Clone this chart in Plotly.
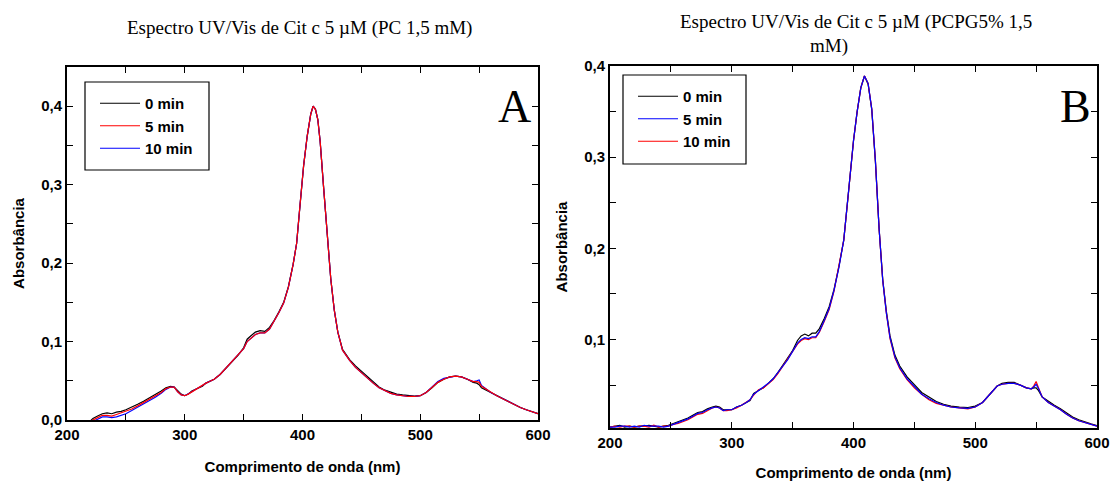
import plotly.graph_objects as go

# ---------------- Panel A data (PC 1,5 mM) ----------------
A_wl = [218, 222, 226, 230, 234, 238, 242, 246, 250, 255, 260, 265, 270, 275, 280, 284, 288, 291, 294,
        297, 300, 303, 306, 309, 312, 315, 318, 321, 325, 330, 335, 340, 345, 350, 353, 356, 360, 364,
        368, 372, 376, 380, 384, 388, 392, 395, 398, 401, 404, 407, 409, 411, 413, 415, 418, 421, 424,
        427, 430, 434, 440, 445, 450, 455, 460, 465, 470, 475, 480, 485, 490, 495, 500, 505, 510, 515,
        520, 525, 530, 535, 540, 545, 548, 550, 552, 556, 560, 565, 570, 575, 580, 585, 590, 595, 600]
A_0min = [-0.004, 0.002, 0.005, 0.008, 0.009, 0.008, 0.010, 0.011, 0.013, 0.016, 0.020, 0.024, 0.028, 0.032,
          0.037, 0.041, 0.043, 0.042, 0.037, 0.033, 0.031, 0.033, 0.037, 0.039, 0.041, 0.043, 0.047, 0.049,
          0.052, 0.058, 0.066, 0.074, 0.082, 0.092, 0.103, 0.107, 0.112, 0.114, 0.113, 0.118, 0.127, 0.138,
          0.150, 0.170, 0.198, 0.225, 0.276, 0.325, 0.362, 0.390, 0.400, 0.396, 0.383, 0.355, 0.295, 0.232,
          0.180, 0.140, 0.112, 0.090, 0.077, 0.069, 0.062, 0.055, 0.048, 0.042, 0.038, 0.035, 0.033, 0.032,
          0.031, 0.0305, 0.031, 0.035, 0.041, 0.048, 0.052, 0.055, 0.056, 0.055, 0.052, 0.048, 0.047, 0.045,
          0.041, 0.038, 0.035, 0.031, 0.027, 0.023, 0.019, 0.016, 0.013, 0.010, 0.008]
A_5min = [-0.006, 0.000, 0.003, 0.006, 0.006, 0.005, 0.007, 0.009, 0.011, 0.014, 0.018, 0.022, 0.026, 0.030,
          0.035, 0.040, 0.042, 0.042, 0.036, 0.032, 0.031, 0.033, 0.036, 0.039, 0.041, 0.044, 0.047, 0.049,
          0.052, 0.058, 0.066, 0.074, 0.082, 0.091, 0.100, 0.104, 0.109, 0.111, 0.111, 0.116, 0.126, 0.137,
          0.149, 0.169, 0.198, 0.225, 0.276, 0.325, 0.362, 0.390, 0.400, 0.396, 0.383, 0.355, 0.295, 0.232,
          0.180, 0.140, 0.112, 0.089, 0.076, 0.067, 0.060, 0.053, 0.047, 0.041, 0.037, 0.034, 0.032, 0.031,
          0.030, 0.030, 0.031, 0.035, 0.041, 0.048, 0.052, 0.055, 0.056, 0.055, 0.052, 0.049, 0.049, 0.048,
          0.043, 0.039, 0.035, 0.031, 0.027, 0.023, 0.019, 0.016, 0.013, 0.010, 0.008]
A_10min = [-0.008, -0.002, 0.001, 0.004, 0.004, 0.003, 0.004, 0.006, 0.008, 0.012, 0.016, 0.020, 0.025, 0.029,
           0.034, 0.039, 0.042, 0.042, 0.036, 0.032, 0.031, 0.033, 0.036, 0.039, 0.041, 0.044, 0.047, 0.049,
           0.052, 0.058, 0.066, 0.074, 0.082, 0.091, 0.100, 0.104, 0.109, 0.111, 0.111, 0.116, 0.126, 0.137,
           0.149, 0.169, 0.198, 0.225, 0.276, 0.325, 0.362, 0.390, 0.400, 0.396, 0.383, 0.355, 0.295, 0.232,
           0.180, 0.140, 0.112, 0.089, 0.076, 0.067, 0.060, 0.053, 0.047, 0.041, 0.037, 0.034, 0.032, 0.031,
           0.030, 0.030, 0.031, 0.035, 0.042, 0.049, 0.053, 0.055, 0.056, 0.055, 0.052, 0.049, 0.050, 0.051,
           0.044, 0.039, 0.035, 0.031, 0.027, 0.023, 0.019, 0.016, 0.013, 0.010, 0.008]

# ---------------- Panel B data (PCPG5% 1,5 mM) ----------------
B_wl = [200, 204, 208, 212, 216, 220, 224, 228, 232, 236, 240, 244, 248, 252, 256, 260, 264, 268, 272, 276,
        280, 284, 287, 290, 293, 296, 300, 304, 308, 312, 315, 318, 322, 326, 330, 334, 338, 342, 346, 350,
        354, 357, 360, 363, 366, 369, 372, 376, 380, 384, 388, 392, 396, 400, 403, 406, 409, 412, 415, 418,
        421, 424, 427, 430, 434, 438, 444, 450, 456, 462, 468, 474, 480, 487, 494, 500, 506, 510, 514, 518,
        522, 527, 532, 537, 542, 546, 548, 550, 552, 555, 560, 565, 570, 575, 580, 585, 590, 595, 600]
B_0min = [0.004, 0.005, 0.006, 0.004, 0.005, 0.004, 0.005, 0.005, 0.006, 0.005, 0.004, 0.005, 0.006, 0.008,
          0.010, 0.012, 0.014, 0.017, 0.020, 0.021, 0.024, 0.026, 0.027, 0.026, 0.023, 0.023, 0.023, 0.026,
          0.028, 0.031, 0.033, 0.041, 0.044, 0.047, 0.052, 0.057, 0.064, 0.072, 0.079, 0.088, 0.099, 0.104,
          0.106, 0.104, 0.107, 0.107, 0.112, 0.123, 0.136, 0.155, 0.180, 0.209, 0.263, 0.318, 0.350, 0.376,
          0.389, 0.380, 0.352, 0.295, 0.222, 0.166, 0.131, 0.104, 0.083, 0.071, 0.059, 0.050, 0.042, 0.037,
          0.032, 0.029, 0.027, 0.026, 0.0255, 0.027, 0.031, 0.037, 0.043, 0.049, 0.052, 0.053, 0.053, 0.050,
          0.047, 0.046, 0.047, 0.047, 0.044, 0.037, 0.032, 0.028, 0.024, 0.019, 0.015, 0.012, 0.0095, 0.0075,
          0.0055]
B_5min = [0.004, 0.004, 0.005, 0.005, 0.004, 0.005, 0.004, 0.006, 0.005, 0.005, 0.005, 0.004, 0.005, 0.007,
          0.009, 0.011, 0.013, 0.016, 0.019, 0.020, 0.023, 0.025, 0.026, 0.025, 0.022, 0.023, 0.023, 0.026,
          0.028, 0.031, 0.034, 0.040, 0.044, 0.047, 0.052, 0.057, 0.064, 0.071, 0.078, 0.087, 0.096, 0.100,
          0.102, 0.101, 0.103, 0.103, 0.109, 0.121, 0.134, 0.154, 0.179, 0.209, 0.263, 0.318, 0.350, 0.376,
          0.389, 0.381, 0.353, 0.296, 0.222, 0.165, 0.129, 0.102, 0.081, 0.069, 0.057, 0.048, 0.040, 0.035,
          0.031, 0.028, 0.026, 0.025, 0.0245, 0.026, 0.031, 0.037, 0.043, 0.049, 0.051, 0.052, 0.052, 0.050,
          0.047, 0.046, 0.048, 0.051, 0.046, 0.037, 0.031, 0.027, 0.023, 0.018, 0.014, 0.011, 0.009, 0.007,
          0.005]
B_10min = [0.004, 0.005, 0.004, 0.005, 0.005, 0.004, 0.005, 0.005, 0.004, 0.006, 0.004, 0.005, 0.005, 0.007,
           0.008, 0.010, 0.012, 0.015, 0.018, 0.019, 0.022, 0.025, 0.026, 0.025, 0.022, 0.022, 0.023, 0.025,
           0.028, 0.032, 0.034, 0.039, 0.045, 0.047, 0.051, 0.056, 0.063, 0.071, 0.078, 0.086, 0.095, 0.099,
           0.101, 0.100, 0.102, 0.102, 0.108, 0.120, 0.133, 0.153, 0.179, 0.209, 0.263, 0.318, 0.350, 0.376,
           0.389, 0.381, 0.353, 0.296, 0.222, 0.165, 0.129, 0.101, 0.080, 0.068, 0.056, 0.047, 0.040, 0.034,
           0.030, 0.028, 0.026, 0.025, 0.024, 0.026, 0.031, 0.037, 0.043, 0.049, 0.051, 0.052, 0.052, 0.050,
           0.047, 0.046, 0.049, 0.054, 0.047, 0.037, 0.031, 0.027, 0.023, 0.018, 0.014, 0.011, 0.009, 0.007,
           0.005]

legend_names = ["0 min", "5 min", "10 min"]
title_A = "Espectro UV/Vis de Cit c 5 µM (PC 1,5 mM)"
title_B1 = "Espectro UV/Vis de Cit c 5 µM (PCPG5% 1,5"
title_B2 = "mM)"
x_label = "Comprimento de onda (nm)"
y_label = "Absorbância"

SANS = "Liberation Sans"
SERIF = "Liberation Serif"
W, H = 1112, 483

fig = go.Figure()

# Panel A: 0 min black, 5 min red, 10 min blue (red drawn on top)
fig.add_trace(go.Scatter(x=A_wl, y=A_0min, name=legend_names[0], mode="lines",
                         line=dict(color="black", width=1.2), legendrank=1, legend="legend"))
fig.add_trace(go.Scatter(x=A_wl, y=A_10min, name=legend_names[2], mode="lines",
                         line=dict(color="#0000ff", width=1.2), legendrank=3, legend="legend"))
fig.add_trace(go.Scatter(x=A_wl, y=A_5min, name=legend_names[1], mode="lines",
                         line=dict(color="#ff0000", width=1.2), legendrank=2, legend="legend"))

# Panel B: 0 min black, 5 min blue, 10 min red (blue drawn on top)
fig.add_trace(go.Scatter(x=B_wl, y=B_0min, name=legend_names[0], mode="lines", xaxis="x2", yaxis="y2",
                         line=dict(color="black", width=1.2), legendrank=1, legend="legend2"))
fig.add_trace(go.Scatter(x=B_wl, y=B_10min, name=legend_names[2], mode="lines", xaxis="x2", yaxis="y2",
                         line=dict(color="#ff0000", width=1.2), legendrank=3, legend="legend2"))
fig.add_trace(go.Scatter(x=B_wl, y=B_5min, name=legend_names[1], mode="lines", xaxis="x2", yaxis="y2",
                         line=dict(color="#0000ff", width=1.2), legendrank=2, legend="legend2"))

tickfont = dict(family=SANS, size=15, color="black", weight="bold")
titlefont = dict(family=SANS, size=15, color="black", weight="bold")
common = dict(showline=True, linecolor="black", linewidth=1.8, mirror="ticks", ticks="inside",
              ticklen=6, tickwidth=1.3, tickcolor="black", showgrid=False, zeroline=False,
              tickfont=tickfont, automargin=False)
minor_x = dict(ticks="inside", dtick=50, ticklen=6, tickwidth=1.3, tickcolor="black")
minor_y = dict(ticks="inside", dtick=0.05, ticklen=6, tickwidth=1.3, tickcolor="black")


def px_x(a, b):
    return [a / W, b / W]


def px_y(top, bottom):
    return [1 - bottom / H, 1 - top / H]


legend_font = dict(family=SANS, size=15, color="black", weight="bold")

fig.update_layout(
    width=W, height=H, margin=dict(l=0, r=0, t=0, b=0),
    paper_bgcolor="white", plot_bgcolor="white",
    separators=", ",
    xaxis=dict(domain=px_x(67, 538), range=[200, 600], dtick=100, tick0=200, minor=minor_x,
               title=dict(text=x_label, font=titlefont, standoff=20), anchor="y", **common),
    yaxis=dict(domain=px_y(67, 420), range=[0, 0.45], dtick=0.1, tick0=0, tickformat=".1f", minor=minor_y,
               title=dict(text=y_label, font=titlefont, standoff=13), anchor="x", **common),
    xaxis2=dict(domain=px_x(610, 1097), range=[200, 600], dtick=100, tick0=200, minor=minor_x,
                title=dict(text=x_label, font=titlefont, standoff=18), anchor="y2", **common),
    yaxis2=dict(domain=px_y(66, 428), range=[0.003, 0.4], dtick=0.1, tick0=0, tickformat=".1f", minor=minor_y,
                title=dict(text=y_label, font=titlefont, standoff=13), anchor="x2", **common),
    legend=dict(x=95 / W, y=1 - 87 / H, xanchor="left", yanchor="top", bgcolor="rgba(0,0,0,0)",
                borderwidth=0, font=legend_font, tracegroupgap=0, itemwidth=40),
    legend2=dict(x=633 / W, y=1 - 80 / H, xanchor="left", yanchor="top", bgcolor="rgba(0,0,0,0)",
                 borderwidth=0, font=legend_font, tracegroupgap=0, itemwidth=40),
    showlegend=True,
    shapes=[
        dict(type="rect", xref="paper", yref="paper", x0=85 / W, x1=209 / W, y0=1 - 170 / H, y1=1 - 82 / H,
             line=dict(color="black", width=1.2), fillcolor="white", layer="above"),
        dict(type="rect", xref="paper", yref="paper", x0=623 / W, x1=746 / W, y0=1 - 164 / H, y1=1 - 75 / H,
             line=dict(color="black", width=1.2), fillcolor="white", layer="above"),
    ],
)

ann = []
ann.append(dict(text=title_A, x=299 / W, y=1 - 28 / H, xref="paper", yref="paper", showarrow=False,
                xanchor="center", yanchor="middle", font=dict(family=SERIF, size=19, color="black")))
ann.append(dict(text=title_B1, x=856 / W, y=1 - 22 / H, xref="paper", yref="paper", showarrow=False,
                xanchor="center", yanchor="middle", font=dict(family=SERIF, size=19, color="black")))
ann.append(dict(text=title_B2, x=829 / W, y=1 - 46 / H, xref="paper", yref="paper", showarrow=False,
                xanchor="center", yanchor="middle", font=dict(family=SERIF, size=19, color="black")))
ann.append(dict(text="A", x=514 / W, y=1 - 107 / H, xref="paper", yref="paper", showarrow=False,
                xanchor="center", yanchor="middle", font=dict(family=SERIF, size=46, color="black")))
ann.append(dict(text="B", x=1075 / W, y=1 - 107 / H, xref="paper", yref="paper", showarrow=False,
                xanchor="center", yanchor="middle", font=dict(family=SERIF, size=46, color="black")))
fig.update_layout(annotations=ann)

fig.write_html("out.html")
